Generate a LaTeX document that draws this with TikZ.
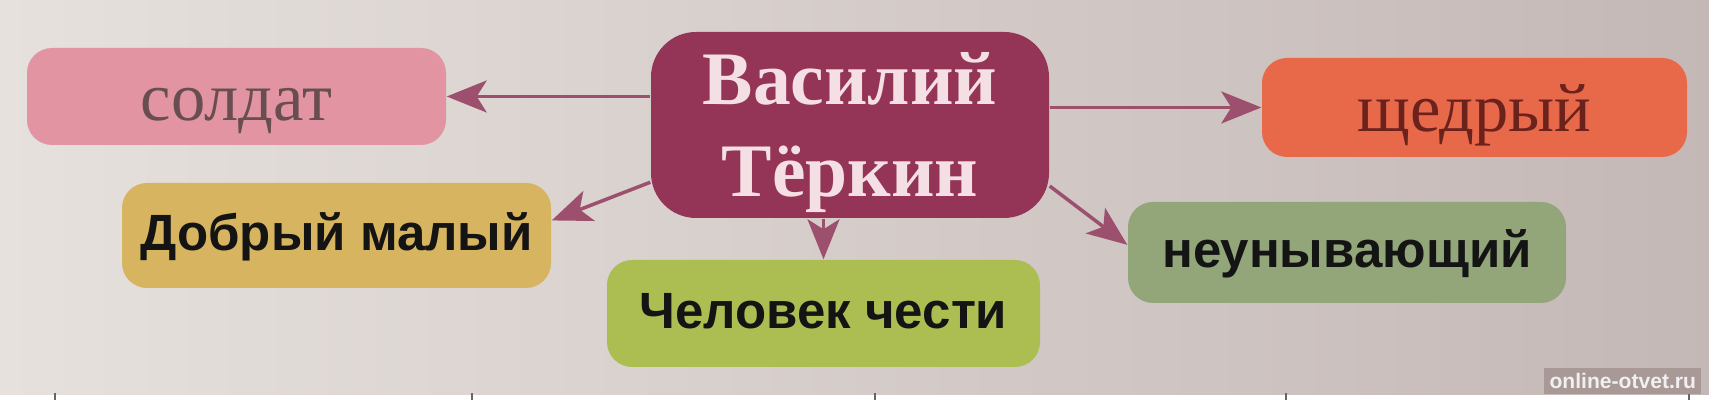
\documentclass[tikz,border=0pt]{standalone}
\usepackage{fontspec}
\setmainfont{Liberation Serif}
\setsansfont{Liberation Sans}
\usetikzlibrary{arrows.meta, positioning}
\definecolor{paperleft}{RGB}{230, 225, 221}
\definecolor{paperright}{RGB}{196, 184, 182}
\definecolor{markshade}{RGB}{168, 152, 150}
\definecolor{heromauve}{RGB}{148, 52, 86}
\definecolor{heropink}{RGB}{244, 224, 228}
\definecolor{soldpink}{RGB}{226, 148, 162}
\definecolor{soldtext}{RGB}{104, 78, 80}
\definecolor{genorange}{RGB}{232, 104, 74}
\definecolor{gentext}{RGB}{108, 34, 28}
\definecolor{kindgold}{RGB}{214, 180, 96}
\definecolor{honorgreen}{RGB}{172, 190, 82}
\definecolor{cheersage}{RGB}{146, 166, 122}
\definecolor{linkmauve}{RGB}{156, 80, 110}

\begin{document}
\begin{tikzpicture}[
  trait/.style={rounded corners=0.25cm, inner sep=0pt, align=center},
  serifword/.style={trait, font=\fontsize{19.5}{22}\selectfont, text height=0.65cm, text depth=0.17cm},
  boldword/.style={trait, font=\sffamily\bfseries\fontsize{14.5}{17}\selectfont, text=black!92, text height=0.5cm, text depth=0.2cm},
  link/.style={-{Stealth[length=0.4cm, width=0.32cm, inset=0.1cm]}, line width=1pt, linkmauve}
]
  % Paper and bottom edge
  \shade[left color=paperleft, right color=paperright] (0,0) rectangle (17.09,4);
  \fill[white] (0,0) rectangle (17.09,0.05);
  \foreach \x in {0.55, 4.72, 8.75, 12.86, 16.89}
    \draw[black!60, line width=0.6pt] (\x,0) -- (\x,0.07);

  % Central box
  \node[trait, fill=heromauve, rounded corners=0.45cm, minimum width=3.98cm, minimum height=1.86cm,
        text=heropink, font=\bfseries\fontsize{21.5}{26}\selectfont]
    (vasily) at (8.50,2.75) {\rule{0pt}{0.71cm}Василий\\Тёркин\rule[-0.2cm]{0pt}{0.2cm}};

  % Upper traits
  \node[serifword, fill=soldpink, text=soldtext, minimum width=4.19cm, minimum height=0.97cm]
    (soldat) at (2.365,3.035) {солдат};
  \node[serifword, fill=genorange, text=gentext, minimum width=4.25cm, minimum height=0.99cm]
    (shchedry) at (14.745,2.925) {щедрый};

  % Lower traits
  \node[boldword, fill=kindgold, minimum width=4.29cm, minimum height=1.05cm]
    (dobry) at (3.365,1.645) {Добрый малый};
  \node[boldword, fill=honorgreen, minimum width=4.33cm, minimum height=1.07cm]
    (chelovek) at (8.235,0.865) {Человек чести};
  \node[boldword, fill=cheersage, minimum width=4.38cm, minimum height=1.01cm]
    (neunyv) at (13.47,1.475) {неунывающий};

  % Arrows
  \draw[link] (vasily.west |- soldat.east) -- (soldat.east);
  \draw[link] (vasily.east |- shchedry.west) -- (shchedry.west);
  \draw[link] (vasily.196) -- (dobry.4);
  \draw[link] (vasily.south -| chelovek.north) -- (chelovek.north);
  \draw[link] (vasily.-17) -- (neunyv.178);

  % Site mark
  \node[anchor=base east, fill=markshade, inner sep=1.5pt, text=white!94!black,
        font=\sffamily\bfseries\fontsize{6}{7}\selectfont]
    (sitemark) at (17.02,0.11) {online-otvet.ru};
\end{tikzpicture}
\end{document}
